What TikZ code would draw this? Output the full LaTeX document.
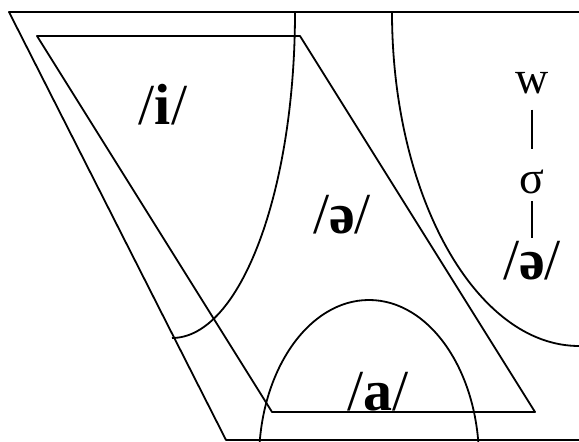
\documentclass[tikz,border=0pt]{standalone}
\usepackage{fontspec}
\setmainfont{Liberation Serif}
\usetikzlibrary{positioning}

\begin{document}
\begin{tikzpicture}[
    x=0.5pt, y=-0.5pt,
    line width=0.9pt,
    line join=round,
    vowel/.style={inner sep=0pt, font=\fontsize{29}{29}\selectfont},
    tier/.style={inner sep=0pt, font=\fontsize{23}{23}\selectfont}
  ]
  \useasboundingbox (0,0) rectangle (579,442);

  % outer trapezoid (open to the right)
  \draw (579,12) -- (9,12) -- (226,440) -- (579,440);

  % inner parallelogram
  \draw (37,36) -- (300,36) -- (535,412) -- (272,412) -- cycle;

  % region boundaries
  \draw (295,12) .. controls (295,192) and (240,338) .. (172,338);
  \draw (392,12) .. controls (392,196) and (476,346) .. (579,346);
  \draw (259,460) .. controls (259,372) and (308,300) .. (369,300)
                  .. controls (430,300) and (479,372) .. (479,460);

  % vowel labels
  \node[vowel] (i)    at (163,105) {/\textbf{i}/};
  \node[vowel] (mid)  at (342,215) {/\textbf{ə}/};
  \node[vowel] (a)    at (378,392) {/\textbf{a}/};

  % w - sigma - schwa tier
  \node[tier]                        (w)     at (532,83) {w};
  \node[tier, below=37pt of w]       (sigma) {σ};
  \node[vowel, below=23pt of sigma]  (schwa) {/\textbf{ə}/};

  \draw[shorten <=7.5pt, shorten >=10pt] (w) -- (sigma);
  \draw[shorten <=3.5pt, shorten >=1pt] (sigma) -- (schwa);

\end{tikzpicture}
\end{document}
